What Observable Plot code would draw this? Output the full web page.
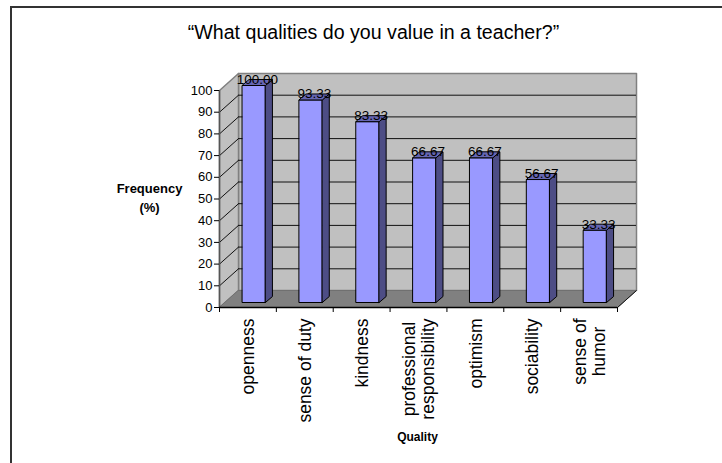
<!DOCTYPE html>
<html>
<head>
<meta charset="utf-8">
<script src="https://cdn.jsdelivr.net/npm/d3@7"></script>
<script src="https://cdn.jsdelivr.net/npm/@observablehq/plot@0.6"></script>
<style>
html,body{margin:0;padding:0;background:#fff;width:722px;height:463px;overflow:hidden}
#frame{position:absolute;left:10px;top:6px;width:722px;height:463px;border-left:2px solid #333;border-top:2px solid #333}
#chart{position:absolute;left:0;top:0}
svg{overflow:visible;background:transparent !important}
</style>
</head>
<body>
<div id="frame"></div>
<div id="chart"></div>
<script>
const categories = ["openness","sense of duty","kindness","professional\nresponsibility","optimism","sociability","sense of\nhumor"];
const values = [100.00,93.33,83.33,66.67,66.67,56.67,33.33];
const valueTicks = d3.range(0,101,10);
const titleText = "\u201CWhat qualities do you value in a teacher?\u201D";
const yTitle = "Frequency\n(%)";
const xTitle = "Quality";

const FONT = "Liberation Sans, Arial, sans-serif";
const W = 722, H = 463, L = 219, R = 617, T = 90, B = 307;
const ux = (R-L)/categories.length, uy = (B-T)/100;
const X = px => (px-L)/ux, Y = px => (B-px)/uy;   // annotation placement in data units

// oblique projection, in data units
const wallDx = 19/ux, wallDy = 17/uy;
const barOx = 6/ux, barOy = 5/uy, barHalf = 11.5/ux, barDx = 7/ux, barDy = 6/uy;
const n = categories.length;

const poly = (id, kind, pts) => pts.map(([x,y]) => ({id, kind, x, y}));
const floor = poly("floor","floor",[[0,0],[n,0],[n+wallDx,wallDy],[wallDx,wallDy]]);
const back = poly("back","wall",[[wallDx,wallDy],[n+wallDx,wallDy],[n+wallDx,100+wallDy],[wallDx,100+wallDy]]);
const side = poly("side","wall",[[0,0],[wallDx,wallDy],[wallDx,100+wallDy],[0,100]]);

const bars = values.flatMap((v,i) => {
  const x0 = i+.5+barOx-barHalf, x1 = i+.5+barOx+barHalf, y0 = barOy, y1 = v+barOy;
  return [
    ...poly(`f${i}`,"front",[[x0,y0],[x1,y0],[x1,y1],[x0,y1]]),
    ...poly(`s${i}`,"side",[[x1,y0],[x1+barDx,y0+barDy],[x1+barDx,y1+barDy],[x1,y1]]),
    ...poly(`t${i}`,"top",[[x0,y1],[x1,y1],[x1+barDx,y1+barDy],[x0+barDx,y1+barDy]])
  ];
});
const barFill = {front:"#9999ff", side:"#4d4d85", top:"#6666b3"};

const ctx = document.createElement("canvas").getContext("2d");
const catSize = 17.5;
ctx.font = `${catSize}px ${FONT}`;
const catRows = categories.map((c,i) => ({
  i, c, half: d3.max(c.split("\n"), s => ctx.measureText(s).width)/2
}));

const plot = Plot.plot({
  width: W, height: H,
  marginLeft: L, marginRight: W-R, marginTop: T, marginBottom: H-B,
  style: {fontFamily: FONT, background: "transparent", overflow: "visible"},
  x: {type:"linear", domain:[0,n], range:[L,R], axis:null},
  y: {type:"linear", domain:[0,100], range:[B,T], axis:null},
  marks: [
    Plot.line(back,{x:"x",y:"y",z:"id",fill:"#c0c0c0",stroke:"#808080",strokeWidth:1.5,curve:"linear-closed"}),
    Plot.line(side,{x:"x",y:"y",z:"id",fill:"#c0c0c0",stroke:"#808080",strokeWidth:1.5,curve:"linear-closed"}),
    Plot.line(floor,{x:"x",y:"y",z:"id",fill:"#808080",stroke:"#707070",strokeWidth:1,curve:"linear-closed"}),
    // gridlines on the back and side walls
    Plot.ruleY(valueTicks.filter(v=>v>0 && v<100),{x1:wallDx,x2:n+wallDx,y:d=>d+wallDy,stroke:"#111",strokeWidth:1}),
    Plot.link(valueTicks.filter(v=>v>0 && v<100),{x1:0,x2:wallDx,y1:d=>d,y2:d=>d+wallDy,stroke:"#111",strokeWidth:1}),
    // floor edge on the right
    Plot.link([0],{x1:n,x2:n+wallDx,y1:0,y2:wallDy,stroke:"#111",strokeWidth:1}),
    // bars
    Plot.line(bars,{x:"x",y:"y",z:"id",fill:d=>barFill[d.kind],stroke:"#000",strokeWidth:1,curve:"linear-closed"}),
    // axes
    Plot.ruleX([0],{y1:0,y2:100,stroke:"#555",strokeWidth:1.5}),
    Plot.ruleY([0],{x1:0,x2:n,stroke:"#000",strokeWidth:1.5}),
    Plot.axisY({ticks:valueTicks,tickSize:5,tickPadding:2,fontSize:13,label:null,tickFormat:d=>d,stroke:"#000",color:"#000"}),
    Plot.axisX({ticks:d3.range(0,n+1),tickSize:5,tickFormat:()=>"",label:null,stroke:"#000"}),
    // value labels
    Plot.text(values,{x:(d,i)=>i+.5+barOx+barDx/2,y:d=>d+barOy+barDy,text:d=>d.toFixed(2),fontSize:13.5,fill:"#000",lineAnchor:"middle"}),
    // category labels
    Plot.text(catRows,{x:d=>d.i+.5,y:d=>-(11+d.half)/uy,text:"c",rotate:-90,textAnchor:"middle",fontSize:catSize,lineHeight:1.1,fill:"#000"}),
    // titles
    Plot.text([titleText],{x:X(373),y:Y(32),fontSize:19.6,fill:"#000"}),
    Plot.text([yTitle],{x:X(149),y:Y(196),fontSize:13,fontWeight:"bold",lineHeight:1.5,fill:"#000"}),
    Plot.text([xTitle],{x:X(417),y:Y(437),fontSize:12,fontWeight:"bold",fill:"#000"})
  ]
});
document.getElementById("chart").append(plot);
</script>
</body>
</html>
